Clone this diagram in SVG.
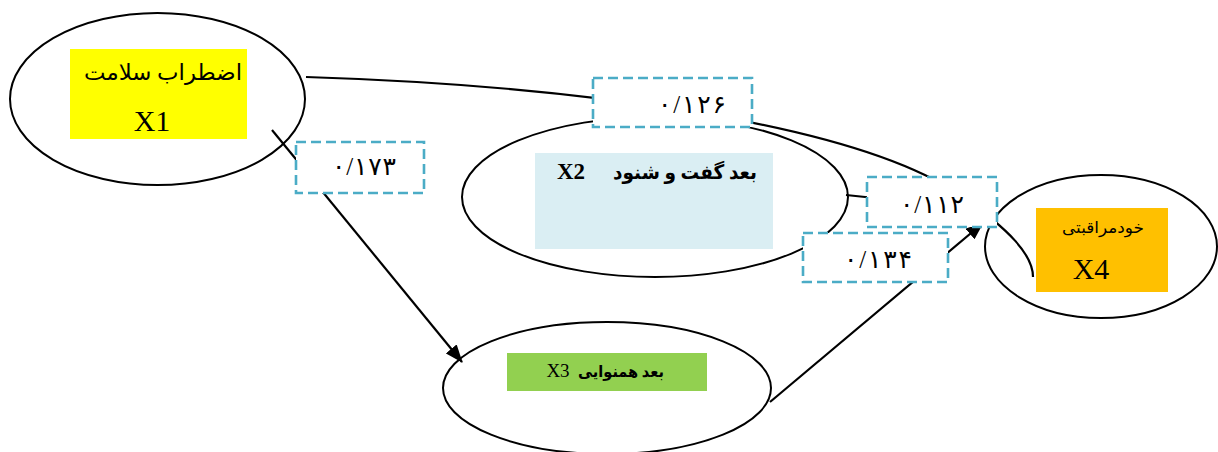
<svg xmlns="http://www.w3.org/2000/svg" width="1218" height="452" viewBox="0 0 1218 452">
  <defs>
    <style>
      .node { fill: #ffffff; stroke: #000000; stroke-width: 2; }
      .edge { fill: none; stroke: #000000; stroke-width: 2.2; }
      .lbl { fill: #ffffff; stroke: #4bacc6; stroke-width: 2.6; stroke-dasharray: 10 5; }
      .lt { font-family: "Liberation Serif", "DejaVu Sans", serif; font-size: 25px; fill: #000; text-anchor: middle; }
      .lat { font-family: "Liberation Serif", serif; fill: #000; text-anchor: middle; }
      .ar { font-family: "Liberation Serif", "DejaVu Sans", sans-serif; fill: #000; text-anchor: middle; }
    </style>
    <marker id="arrow" viewBox="0 0 18 14" refX="17" refY="7" markerWidth="18" markerHeight="14" markerUnits="userSpaceOnUse" orient="auto">
      <path d="M0,0 L18,7 L0,14 z" fill="#000"/>
    </marker>
  </defs>
  <rect width="1218" height="452" fill="#ffffff"/>

  <g id="node-x1">
    <ellipse class="node" cx="157.5" cy="99" rx="147.5" ry="86"/>
    <rect x="70" y="49" width="177" height="90" fill="#ffff00"/>
    <text class="ar" x="163" y="80" font-size="22" textLength="158" lengthAdjust="spacingAndGlyphs">اضطراب سلامت</text>
    <text class="lat" x="152" y="131" font-size="30">X1</text>
  </g>

  <g id="node-x2">
    <ellipse class="node" cx="655" cy="197" rx="193" ry="80"/>
    <rect x="535" y="153" width="238" height="96" fill="#daeef3"/>
    <text class="ar" x="685" y="179" font-size="20" font-weight="bold" textLength="144" lengthAdjust="spacingAndGlyphs">بعد گفت و شنود</text>
    <text class="lat" x="571" y="179" font-size="23" font-weight="bold">X2</text>
  </g>

  <g id="node-x3">
    <ellipse class="node" cx="607" cy="388" rx="164" ry="66"/>
    <rect x="507" y="353" width="200" height="38" fill="#92d050"/>
    <text class="ar" x="621" y="377" font-size="16" font-weight="bold" textLength="86" lengthAdjust="spacingAndGlyphs">بعد همنوایی</text>
    <text class="lat" x="558" y="377" font-size="19">X3</text>
  </g>

  <g id="node-x4">
    <ellipse class="node" cx="1101" cy="246.5" rx="116" ry="71.5"/>
    <rect x="1036" y="208" width="132" height="84" fill="#ffc000"/>
    <text class="ar" x="1103" y="233" font-size="16" textLength="82" lengthAdjust="spacingAndGlyphs">خودمراقبتی</text>
    <text class="lat" x="1091" y="279" font-size="30">X4</text>
  </g>

  <g id="connectors">
    <path class="edge" d="M306,77 C560,85 850,120 960,195 C1010,230 1033,255 1033,277"/>
    <line class="edge" x1="272" y1="130" x2="462" y2="362" marker-end="url(#arrow)"/>
    <line class="edge" x1="846" y1="195" x2="990" y2="210"/>
    <line class="edge" x1="770" y1="402" x2="983" y2="223" marker-end="url(#arrow)"/>
  </g>

  <g id="edge-labels">
    <g id="label-126">
      <rect class="lbl" x="593" y="78" width="159" height="49"/>
      <text class="lt" x="692" y="113" textLength="68" lengthAdjust="spacing">۰/۱۲۶</text>
    </g>
    <g id="label-173">
      <rect class="lbl" x="296" y="142" width="128" height="51"/>
      <text class="lt" x="364" y="175" textLength="64" lengthAdjust="spacing">۰/۱۷۳</text>
    </g>
    <g id="label-112">
      <rect class="lbl" x="867" y="177" width="130" height="50"/>
      <text class="lt" x="932" y="213" textLength="64" lengthAdjust="spacing">۰/۱۱۲</text>
    </g>
    <g id="label-134">
      <rect class="lbl" x="803" y="233" width="145" height="49"/>
      <text class="lt" x="878" y="268" textLength="68" lengthAdjust="spacing">۰/۱۳۴</text>
    </g>
  </g>
</svg>
